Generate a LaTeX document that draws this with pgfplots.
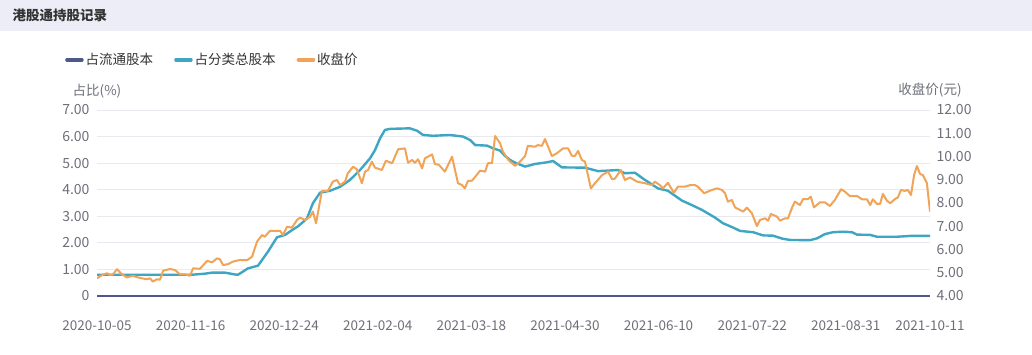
\documentclass[border=0pt]{standalone}
\usepackage{pgfplots}
\pgfplotsset{compat=1.18}
\usepackage{fontspec}
\setmainfont{Noto Sans CJK SC}
\definecolor{darkser}{RGB}{78,88,140}
\definecolor{tealser}{RGB}{62,166,194}
\definecolor{orangeser}{RGB}{240,164,88}
\definecolor{lblgray}{RGB}{110,112,121}
\definecolor{gridgray}{RGB}{232,234,240}
\definecolor{titlebg}{RGB}{236,237,247}
\definecolor{txt}{RGB}{51,51,51}
\begin{document}
\begin{tikzpicture}[x=1pt,y=1pt]
\fill[white] (0,0) rectangle (1032,355);
\fill[titlebg] (0,324) rectangle (1032,355);
\node[anchor=west,text=txt,font=\fontsize{13.5}{15}\selectfont\bfseries] at (9,339.5) {港股通持股记录};
\node[text=lblgray,font=\fontsize{13.5}{15}\selectfont] at (97,264) {占比(\%)};
\node[text=lblgray,font=\fontsize{13.5}{15}\selectfont] at (930,265) {收盘价(元)};
\begin{axis}[
  at={(97pt,59pt)}, anchor=south west,
  scale only axis, width=833pt, height=186pt,
  xmin=0, xmax=267, ymin=0, ymax=7,
  clip=false,
  axis line style={draw=none},
  major tick length=0pt,
  xtick={0,30,60,90,120,150,180,210,240,267},
  xticklabels={2020-10-05,2020-11-16,2020-12-24,2021-02-04,2021-03-18,2021-04-30,2021-06-10,2021-07-22,2021-08-31,2021-10-11},
  xticklabel style={text=lblgray,font=\fontsize{13.5}{15}\selectfont,yshift=-21pt},
  ytick={0,1,2,3,4,5,6,7},
  yticklabels={0,1.00,2.00,3.00,4.00,5.00,6.00,7.00},
  yticklabel style={text=lblgray,font=\fontsize{14}{16}\selectfont,xshift=-4pt},
  ymajorgrids, grid style={gridgray,line width=0.8pt},
  legend style={at={(-0.042,1.27)},anchor=west,draw=none,fill=none,
    legend columns=-1,font=\fontsize{13.5}{15}\selectfont,text=txt,
    /tikz/every even column/.append style={column sep=19pt}},
  legend image code/.code={\draw[line width=3.5pt,line cap=round] (0pt,0pt) -- (15pt,0pt);},
]
\addlegendimage{darkser}
\addlegendentry{占流通股本}
\addlegendimage{tealser}
\addlegendentry{占分类总股本}
\addlegendimage{orangeser}
\addlegendentry{收盘价}
\addplot[forget plot,tealser,line width=2.4pt,line join=round] coordinates {
(0,0.80) (10,0.80) (20,0.80) (30.4,0.80) (34.6,0.84) (36.9,0.88) (41.0,0.88)
(44.2,0.81) (45.2,0.80) (48.4,1.04) (51.6,1.14) (54.8,1.67) (57.7,2.21)
(60.3,2.30) (62.5,2.48) (64.4,2.62) (66.0,2.78) (67.3,2.92) (69.2,3.49)
(71.5,3.89) (74.7,3.96) (77.9,4.11) (81.1,4.37) (84.3,4.74) (87.5,5.18)
(89.1,5.49) (90.7,5.93) (92.3,6.25) (93.9,6.29) (100.3,6.31) (102.6,6.22)
(104.5,6.06) (107.7,6.03) (113.1,6.06) (117.3,6.00) (119.6,5.87) (121.2,5.68)
(125.0,5.66) (126.9,5.56) (129.2,5.47) (130.8,5.27) (132.4,5.12) (134.0,5.02)
(137.2,4.87) (140.4,4.97) (143.6,5.02) (146.2,5.08) (149.0,4.84) (156.4,4.83)
(160.6,4.70) (167.0,4.74) (169.2,4.62) (172.4,4.64) (175.6,4.37) (179.8,4.05)
(183.0,3.96) (187.5,3.59) (190.7,3.42) (193.9,3.24) (195.8,3.11) (198.1,2.95)
(200.6,2.74) (203.8,2.58) (206.1,2.45) (210.3,2.40) (213.5,2.28) (216.7,2.27)
(219.6,2.16) (222.1,2.11) (228.5,2.10) (230.8,2.17) (233.3,2.33) (235.9,2.40)
(239.1,2.42) (242.0,2.40) (243.6,2.31) (247.8,2.30) (250.0,2.23) (256.4,2.23)
(260.6,2.26) (267,2.26)
};
\addplot[forget plot,darkser,line width=2.6pt] coordinates {(0,0) (267,0)};
\end{axis}
\begin{axis}[
  at={(97pt,59pt)}, anchor=south west,
  scale only axis, width=833pt, height=186pt,
  xmin=0, xmax=267, ymin=4, ymax=12,
  axis line style={draw=none},
  major tick length=0pt,
  axis y line*=right,
  xtick=\empty,
  ytick={4,5,6,7,8,9,10,11,12},
  yticklabels={4.00,5.00,6.00,7.00,8.00,9.00,10.00,11.00,12.00},
  yticklabel style={text=lblgray,font=\fontsize{14}{16}\selectfont,xshift=3pt},
]
\addplot[orangeser,line width=2pt,line join=round] coordinates {
(0,4.76) (1.6,4.90) (3.2,4.98) (4.2,4.90) (5.1,4.93) (6.4,5.15) (8.0,4.93)
(9.6,4.80) (11.5,4.87) (13.1,4.80) (14.4,4.76) (16.0,4.72) (17.0,4.76)
(17.9,4.62) (19.2,4.72) (20.2,4.70) (21.2,5.09) (23.4,5.16) (25.0,5.12)
(26.6,4.93) (28.2,4.93) (29.8,4.87) (30.8,5.19) (33.0,5.17) (35.3,5.51)
(36.9,5.45) (38.5,5.62) (39.4,5.58) (40.4,5.33) (42.0,5.37) (43.6,5.48)
(45.8,5.55) (48.1,5.54) (49.7,5.69) (51.3,6.34) (52.9,6.62) (53.8,6.55)
(55.4,6.80) (58.7,6.80) (59.6,6.62) (60.9,6.98) (62.5,6.94) (64.1,7.27)
(65.1,7.37) (66.7,7.27) (68.3,7.41) (69.2,7.63) (70.2,7.13) (72.1,8.52)
(74.0,8.52) (75.6,8.92) (76.9,8.99) (77.9,8.77) (79.5,8.92) (80.4,9.28)
(82.1,9.56) (83.3,9.45) (84.9,8.85) (85.9,9.35) (86.9,9.42) (88.1,9.78)
(89.1,9.52) (91.3,9.42) (92.6,9.82) (94.6,9.71) (96.5,10.31) (98.7,10.35)
(99.7,9.73) (101.0,9.85) (101.9,9.73) (102.9,9.88) (104.2,9.49) (105.1,9.92)
(107.4,10.09) (108.3,9.68) (109.6,9.64) (111.5,9.35) (113.8,9.99) (115.7,8.85)
(117.0,8.77) (117.9,8.63) (118.9,8.95) (120.2,8.96) (122.8,9.39) (124.4,9.35)
(125.3,9.71) (126.6,9.71) (127.6,10.88) (129.2,10.57) (130.1,10.21) (131.7,9.88)
(132.4,9.78) (134.0,9.60) (135.6,9.78) (137.2,10.02) (138.1,10.46) (140.4,10.42)
(141.3,10.49) (142.6,10.46) (143.6,10.75) (145.8,10.02) (147.4,10.14) (149.4,10.35)
(151.0,10.35) (152.2,10.03) (153.2,10.03) (154.2,10.24) (155.4,9.85) (156.4,9.78)
(158.3,8.63) (159.6,8.85) (161.9,9.20) (163.8,9.35) (165.1,9.02) (166.0,9.05)
(167.9,9.42) (169.2,8.99) (170.8,9.10) (173.1,8.92) (175.6,8.85) (177.9,8.77)
(178.8,8.92) (180.4,8.77) (181.4,8.63) (183.0,8.87) (184.9,8.44) (186.2,8.70)
(188.5,8.70) (190.1,8.77) (191.7,8.77) (192.6,8.70) (194.6,8.42) (196.5,8.53)
(198.7,8.63) (200.3,8.56) (201.3,8.42) (202.2,8.06) (203.5,8.13) (204.5,7.81)
(206.1,7.70) (207.1,7.63) (208.3,7.80) (209.9,7.56) (211.5,7.01) (212.5,7.27)
(214.1,7.34) (215.1,7.24) (216.0,7.53) (218.0,7.41) (218.9,7.24) (220.5,7.34)
(221.5,7.34) (222.8,7.81) (223.7,8.06) (225.3,7.91) (226.3,8.17) (227.9,8.17)
(228.8,8.27) (229.8,7.81) (231.7,8.03) (233.3,8.03) (234.9,7.87) (236.5,8.13)
(238.5,8.59) (239.7,8.49) (241.3,8.30) (243.6,8.30) (245.2,8.16) (246.8,8.16)
(247.8,7.91) (248.7,8.16) (250.0,7.96) (251.0,7.96) (251.9,8.39) (253.2,8.10)
(254.2,7.99) (255.8,8.17) (256.7,8.24) (257.7,8.56) (259.0,8.52) (259.9,8.56)
(260.9,8.34) (261.9,9.20) (262.8,9.59) (263.8,9.25) (264.7,9.20) (266.0,8.85)
(267,7.63)
};
\end{axis}
\end{tikzpicture}
\end{document}
